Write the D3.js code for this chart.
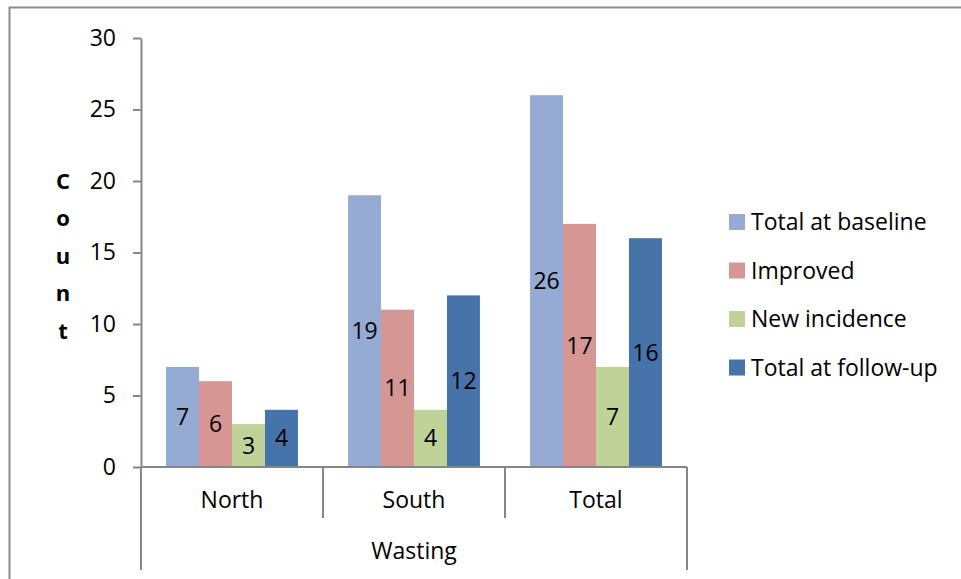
<!DOCTYPE html>
<html>
<head>
<meta charset="utf-8">
<script src="https://cdn.jsdelivr.net/npm/d3@7"></script>
<style>
  html, body { margin: 0; padding: 0; background: #fff; }
  svg { display: block; }
  text { font-family: "Open Sans", "Noto Sans", sans-serif; fill: #000; }
</style>
</head>
<body>
<svg id="chart" width="961" height="579"></svg>
<script>
// Wasting counts by region
const categories = ["North", "South", "Total"];
const groupLabel = "Wasting";
const seriesNames = ["Total at baseline", "Improved", "New incidence", "Total at follow-up"];
const baseline = [7, 19, 26];
const improved = [6, 11, 17];
const newIncidence = [3, 4, 7];
const followUp = [4, 12, 16];
const yTicks = [0, 5, 10, 15, 20, 25, 30];
const seriesColors = ["#95abd3", "#d59694", "#bfd399", "#4673a9"];

const seriesValues = [baseline, improved, newIncidence, followUp];
const fontSize = 23;

const svg = d3.select("#chart");
const axisColor = "#868686";

// outer chart frame
svg.append("path")
  .attr("d", "M9.5,579 V7.5 H961")
  .attr("fill", "none")
  .attr("stroke", "#8c8c8c")
  .attr("stroke-width", 2);

const plot = { left: 141, right: 687, top: 38, bottom: 467 };

const y = d3.scaleLinear().domain([0, 30]).range([plot.bottom, plot.top]);
const x0 = d3.scaleBand().domain(categories).range([plot.left, plot.right]).paddingInner(0).paddingOuter(0);
const x1 = d3.scaleBand().domain(d3.range(seriesNames.length))
  .range([0, x0.bandwidth()]).paddingOuter(0.76).paddingInner(0);

// y axis
const yAxis = d3.axisLeft(y).tickValues(yTicks).tickSize(8).tickPadding(17).tickSizeOuter(0);
const yg = svg.append("g").attr("transform", `translate(${plot.left},0)`).call(yAxis);
yg.select(".domain").attr("stroke", axisColor).attr("stroke-width", 2);
yg.selectAll(".tick line").attr("stroke", axisColor).attr("stroke-width", 2);
yg.selectAll(".tick text").attr("font-size", fontSize).attr("fill", "#000");
yg.attr("font-family", null);

// y axis title, stacked letters
const title = "Count".split("");
svg.append("g").selectAll("text").data(title).join("text")
  .attr("x", 63)
  .attr("y", (d, i) => 181 + i * 37.5)
  .attr("dy", "0.35em")
  .attr("text-anchor", "middle")
  .attr("font-size", 22)
  .attr("font-weight", "bold")
  .text(d => d);

// bars
const groups = svg.append("g").selectAll("g").data(categories).join("g")
  .attr("transform", d => `translate(${x0(d)},0)`);

groups.each(function(cat, ci) {
  const g = d3.select(this);
  seriesValues.forEach((vals, si) => {
    const v = vals[ci];
    g.append("rect")
      .attr("x", x1(si))
      .attr("y", y(v))
      .attr("width", x1.bandwidth())
      .attr("height", y(0) - y(v))
      .attr("fill", seriesColors[si]);
    g.append("text")
      .attr("x", x1(si) + x1.bandwidth() / 2)
      .attr("y", (y(v) + y(0)) / 2)
      .attr("dy", "0.35em")
      .attr("text-anchor", "middle")
      .attr("font-size", fontSize)
      .text(v);
  });
});

// x axis with category dividers and group bracket
const xg = svg.append("g");
xg.append("line")
  .attr("x1", plot.left).attr("x2", plot.right)
  .attr("y1", y(0)).attr("y2", y(0))
  .attr("stroke", axisColor).attr("stroke-width", 2);
const edges = categories.map(c => x0(c)).concat([x0(categories[categories.length - 1]) + x0.bandwidth()]);
xg.selectAll("line.div").data(edges).join("line")
  .attr("class", "div")
  .attr("x1", d => d).attr("x2", d => d)
  .attr("y1", y(0))
  .attr("y2", (d, i) => (i === 0 || i === edges.length - 1) ? 570 : 518)
  .attr("stroke", axisColor).attr("stroke-width", 2);
xg.selectAll("text.cat").data(categories).join("text")
  .attr("class", "cat")
  .attr("x", d => x0(d) + x0.bandwidth() / 2)
  .attr("y", 500)
  .attr("dy", "0.35em")
  .attr("text-anchor", "middle")
  .attr("font-size", fontSize)
  .text(d => d);
xg.append("text")
  .attr("x", (plot.left + plot.right) / 2)
  .attr("y", 551)
  .attr("dy", "0.35em")
  .attr("text-anchor", "middle")
  .attr("font-size", fontSize)
  .text(groupLabel);

// legend
const legend = svg.append("g").attr("transform", "translate(729,222)");
const items = legend.selectAll("g").data(seriesNames).join("g")
  .attr("transform", (d, i) => `translate(0,${i * 48.5})`);
items.append("rect")
  .attr("x", 0).attr("y", -8)
  .attr("width", 16).attr("height", 16)
  .attr("fill", (d, i) => seriesColors[i]);
items.append("text")
  .attr("x", 22).attr("y", 0)
  .attr("dy", "0.35em")
  .attr("font-size", fontSize)
  .text(d => d);
</script>
</body>
</html>
